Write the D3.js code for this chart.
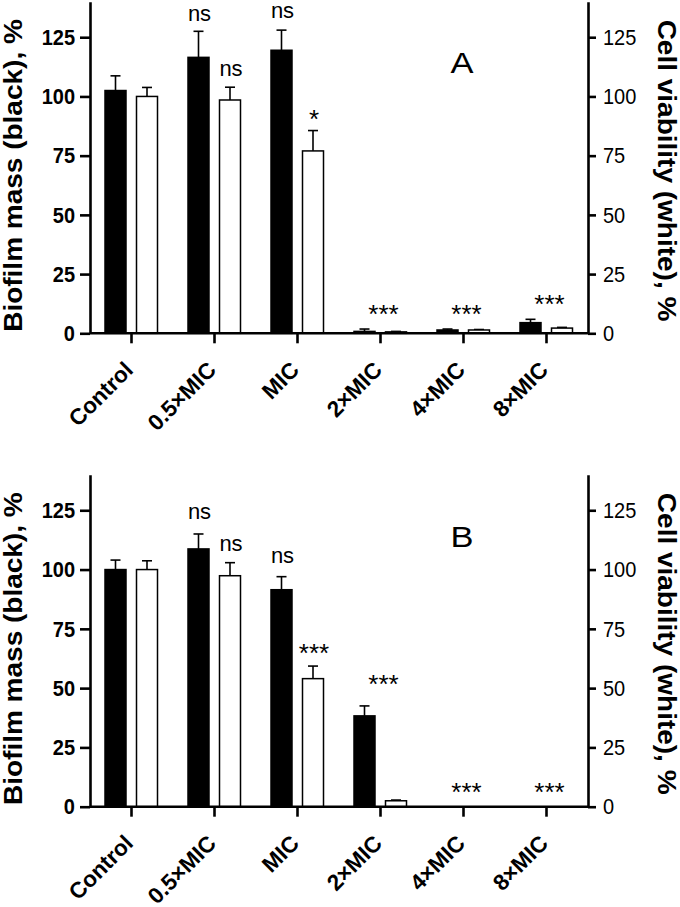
<!DOCTYPE html>
<html><head><meta charset="utf-8">
<script src="https://cdn.jsdelivr.net/npm/d3@7"></script>
<style>
body{margin:0;background:#fff}
svg{display:block}
text{font-family:"Liberation Sans",Arial,Helvetica,sans-serif;fill:#000}
</style>
</head><body>
<svg id="c" width="680" height="907"></svg>
<script>
// ---------------- data ----------------
const categories = ["Control", "0.5×MIC", "MIC", "2×MIC", "4×MIC", "8×MIC"];
const yTicks = [0, 25, 50, 75, 100, 125];

// Panel A
const biofilmA      = [102.5, 116.5, 119.5, 0.8, 1.4, 4.5];
const biofilmAErr   = [6.2, 11.0, 8.5, 1.0, 0.4, 1.4];
const viabilityA    = [100, 98.5, 77.0, 0.6, 1.4, 2.2];
const viabilityAErr = [3.8, 5.4, 8.6, 0.2, 0.2, 0.3];
const annotA = [
  {cat: "0.5×MIC", at: "black",  text: "ns",  level: 132.0},
  {cat: "0.5×MIC", at: "white",  text: "ns",  level: 108.8},
  {cat: "MIC",     at: "black",  text: "ns",  level: 133.0},
  {cat: "MIC",     at: "white",  text: "*",   level: 86.8},
  {cat: "2×MIC",   at: "center", text: "***", level: 4.4},
  {cat: "4×MIC",   at: "center", text: "***", level: 4.4},
  {cat: "8×MIC",   at: "center", text: "***", level: 8.7}
];

// Panel B
const biofilmB      = [100, 108.7, 91.5, 38.3, 0, 0];
const biofilmBErr   = [4.0, 6.3, 5.5, 4.2, 0, 0];
const viabilityB    = [100, 97.4, 54.0, 2.5, 0, 0];
const viabilityBErr = [3.7, 5.5, 5.3, 0.3, 0, 0];
const annotB = [
  {cat: "0.5×MIC", at: "black",  text: "ns",  level: 121.3},
  {cat: "0.5×MIC", at: "white",  text: "ns",  level: 108.0},
  {cat: "MIC",     at: "black",  text: "ns",  level: 102.8},
  {cat: "MIC",     at: "white",  text: "***", level: 61.2},
  {cat: "2×MIC",   at: "center", text: "***", level: 48.0},
  {cat: "4×MIC",   at: "center", text: "***", level: 2.2},
  {cat: "8×MIC",   at: "center", text: "***", level: 2.2}
];

const leftTitle  = "Biofilm mass (black), %";
const rightTitle = "Cell viability (white), %";

// ---------------- drawing ----------------
const svg = d3.select("#c");
const X0 = 90, X1 = 588;

const panels = [
  {label: "A", black: biofilmA, blackErr: biofilmAErr, white: viabilityA, whiteErr: viabilityAErr, annots: annotA, top: 1.7, bottom: 333.3},
  {label: "B", black: biofilmB, blackErr: biofilmBErr, white: viabilityB, whiteErr: viabilityBErr, annots: annotB, top: 474.7, bottom: 806.7}
];

panels.forEach(drawPanel);

function drawPanel(p) {
  const y = d3.scaleLinear().domain([0, 140]).range([p.bottom, p.top]);
  const x = d3.scaleBand().domain(categories).range([X0, X1]);
  const xs = d3.scaleBand().domain(["black", "white"]).range([15, 67.5]).paddingInner(1 / 3);
  const g = svg.append("g");

  const series = [
    {key: "black", vals: p.black, errs: p.blackErr, fill: "#000"},
    {key: "white", vals: p.white, errs: p.whiteErr, fill: "#fff"}
  ];

  series.forEach(s => {
    const bw = xs.bandwidth();
    const eg = g.append("g");
    categories.forEach((c, i) => {
      const v = s.vals[i], e = s.errs[i];
      if (v <= 0 || e <= 0) return;
      const cx = x(c) + xs(s.key) + bw / 2;
      eg.append("line").attr("x1", cx).attr("x2", cx)
        .attr("y1", y(v)).attr("y2", y(v + e))
        .attr("stroke", "#000").attr("stroke-width", 1.6);
      eg.append("line").attr("x1", cx - 5).attr("x2", cx + 5)
        .attr("y1", y(v + e)).attr("y2", y(v + e))
        .attr("stroke", "#000").attr("stroke-width", 1.6);
    });
    g.append("g").selectAll("rect")
      .data(categories.map((c, i) => ({c, v: s.vals[i]})).filter(d => d.v > 0))
      .join("rect")
      .attr("x", d => x(d.c) + xs(s.key))
      .attr("width", bw)
      .attr("y", d => y(d.v))
      .attr("height", d => y(0) - y(d.v))
      .attr("fill", s.fill)
      .attr("stroke", "#000")
      .attr("stroke-width", 1.5);
  });

  const styleAxis = (sel) => {
    sel.select(".domain").attr("stroke-width", 2.6);
    sel.selectAll(".tick line").attr("stroke-width", 2.6);
  };
  const ly = g.append("g").attr("transform", `translate(${X0},0)`)
    .call(d3.axisLeft(y).tickValues(yTicks).tickSize(10).tickSizeOuter(0).tickPadding(5));
  styleAxis(ly);
  ly.selectAll("text").style("font-size", "20px").style("font-weight", "bold")
    .style("font-family", '"Liberation Sans",Arial,sans-serif')
    .attr("transform", "scale(1,1.13)");

  const ry = g.append("g").attr("transform", `translate(${X1},0)`)
    .call(d3.axisRight(y).tickValues(yTicks).tickSize(8).tickSizeOuter(0).tickPadding(7));
  styleAxis(ry);
  ry.selectAll("text").style("font-size", "20px")
    .style("font-family", '"Liberation Sans",Arial,sans-serif')
    .attr("transform", "scale(1,1.13)");

  const bx = g.append("g").attr("transform", `translate(0,${y(0)})`)
    .call(d3.axisBottom(x).tickSize(10).tickSizeOuter(0).tickFormat(""));
  styleAxis(bx);
  bx.select(".domain").attr("d", `M${X0},0H${X1}`);

  g.append("g").selectAll("text").data(categories).join("text")
    .attr("transform", c => `translate(${x(c) + x.bandwidth() / 2 + 3},${y(0) + 38}) rotate(-45)`)
    .attr("text-anchor", "end")
    .style("font-size", "22.5px").style("font-weight", "bold")
    .text(c => c);

  const midY = (p.top + p.bottom) / 2;
  g.append("text")
    .attr("transform", `translate(22,${midY + 8}) rotate(-90) scale(1.12,1)`)
    .attr("text-anchor", "middle")
    .style("font-size", "25px").style("font-weight", "bold")
    .text(leftTitle);
  g.append("text")
    .attr("transform", `translate(658,${midY + 3}) rotate(90) scale(1.12,1)`)
    .attr("text-anchor", "middle")
    .style("font-size", "25px").style("font-weight", "bold")
    .text(rightTitle);

  g.append("text")
    .attr("transform", `translate(462,${y(0) - 260}) scale(1.15,1)`)
    .attr("text-anchor", "middle")
    .style("font-size", "30px")
    .text(p.label);

  g.append("g").selectAll("text").data(p.annots).join("text")
    .attr("x", d => d.at === "center" ? x(d.cat) + x.bandwidth() / 2 + 3
                                       : x(d.cat) + xs(d.at) + xs.bandwidth() / 2 + 1)
    .attr("y", d => y(d.level))
    .attr("text-anchor", "middle")
    .style("font-size", d => d.text === "ns" ? "22px" : "26px")
    .text(d => d.text);
}
</script>
</body></html>
